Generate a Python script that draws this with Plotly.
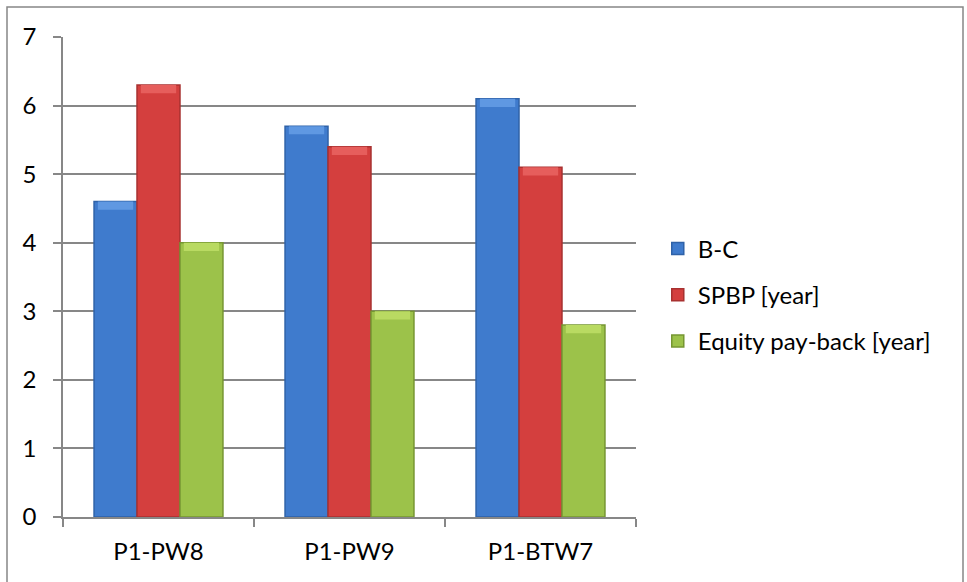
import plotly.graph_objects as go

# Project categories and indicator values
categories = ["P1-PW8", "P1-PW9", "P1-BTW7"]
bc_values = [4.6, 5.7, 6.1]
spbp_values = [6.3, 5.4, 5.1]
equity_values = [4.0, 3.0, 2.8]
y_ticks = [0, 1, 2, 3, 4, 5, 6, 7]

# name, values, body colour, bevel highlight, edge colour
series = [
    ("B-C", bc_values, "#3f7bcd", "#5f98e2", "#2f62a8"),
    ("SPBP [year]", spbp_values, "#d43f3e", "#e65e5c", "#a83130"),
    ("Equity pay-back [year]", equity_values, "#9cc24a", "#b9da62", "#769632"),
]

bar_w = 0.225          # bar width in category units
group_left = -0.3375   # left edge of the first bar in each group
inset = 0.02           # inset of the bevel highlight
bevel = 0.12           # height of the bevel highlight (data units)

fig = go.Figure()
for i, (name, vals, fill, light, edge) in enumerate(series):
    off = group_left + i * bar_w
    fig.add_trace(go.Bar(
        x=categories, y=vals, name=name,
        offset=off, width=bar_w,
        marker=dict(color=fill, line=dict(color=edge, width=1.5)),
        legendgroup=f"g{i}",
    ))
    fig.add_trace(go.Bar(
        x=categories, y=[bevel] * len(vals),
        base=[v - bevel for v in vals],
        offset=off + inset, width=bar_w - 2 * inset,
        marker=dict(color=light, line=dict(width=0)),
        showlegend=False, hoverinfo="skip", legendgroup=f"g{i}",
    ))

grid = "#878787"
fig.update_layout(
    width=967, height=582,
    margin=dict(l=63, r=331, t=37, b=65),
    paper_bgcolor="white", plot_bgcolor="white",
    barmode="overlay",
    font=dict(family="Lato, Open Sans, sans-serif", size=24, color="black"),
    showlegend=True,
    legend=dict(
        x=1.038, xanchor="left", y=0.4625, yanchor="middle",
        font=dict(size=24), tracegroupgap=12,
        itemwidth=30,
    ),
    xaxis=dict(
        showline=True, linecolor=grid, linewidth=1.5,
        ticks="outside", ticklen=8, tickcolor=grid, tickwidth=1.5,
        tickson="boundaries", showgrid=False,
        tickfont=dict(size=24), ticklabelstandoff=12,
    ),
    yaxis=dict(
        range=[0, 7], tickvals=y_ticks, showgrid=True, gridcolor=grid,
        gridwidth=1.5, showline=True, linecolor=grid, linewidth=1.5,
        ticks="outside", ticklen=8, tickcolor=grid, tickwidth=1.5,
        zeroline=False, tickfont=dict(size=24), ticklabelstandoff=12,
    ),
)

# Outer chart frame
fig.add_shape(
    type="rect", xref="paper", yref="paper",
    x0=-56 / 573, x1=900 / 573, y0=-0.3, y1=1 + 30 / 480,
    line=dict(color=grid, width=1.5), fillcolor="rgba(0,0,0,0)",
    layer="below",
)

fig.write_html("out.html")
